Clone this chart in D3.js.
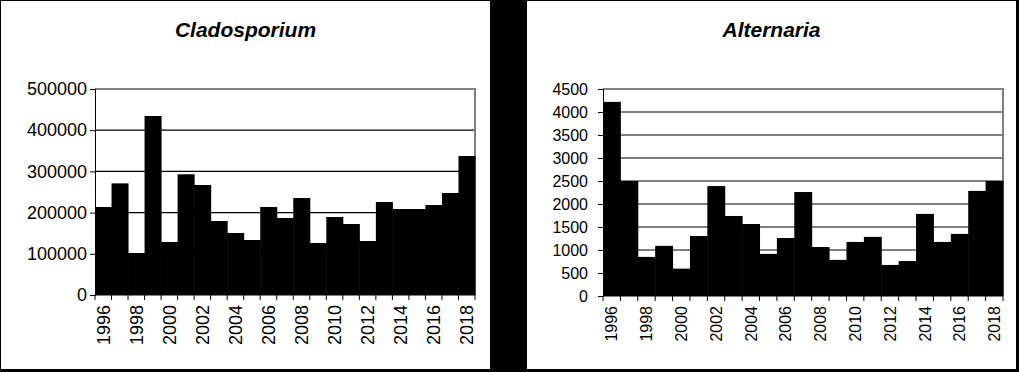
<!DOCTYPE html>
<html>
<head>
<meta charset="utf-8">
<script src="https://cdn.jsdelivr.net/npm/d3@7"></script>
<style>
  body { margin: 0; background: #000; }
  text { font-family: "Liberation Sans", Arial, sans-serif; fill: #000; }
</style>
</head>
<body>
<div id="chart"></div>
<script>
// years on the x axis (same for both panels)
var years = [1996, 1997, 1998, 1999, 2000, 2001, 2002, 2003, 2004, 2005, 2006, 2007,
             2008, 2009, 2010, 2011, 2012, 2013, 2014, 2015, 2016, 2017, 2018];
var yearLabels = [1996, 1998, 2000, 2002, 2004, 2006, 2008, 2010, 2012, 2014, 2016, 2018];

// Cladosporium yearly totals
var cladosporium = [213600, 271000, 102000, 434500, 128600, 293000, 267000, 179600,
                    150500, 133500, 213600, 187000, 235400, 126200, 189300, 172300,
                    131000, 225700, 208700, 208700, 218400, 247600, 337400];
var cladoTicks = [0, 100000, 200000, 300000, 400000, 500000];

// Alternaria yearly totals
var alternaria = [4220, 2500, 850, 1090, 595, 1305, 2390, 1740, 1565, 915, 1260, 2260,
                  1065, 785, 1175, 1285, 675, 760, 1785, 1175, 1350, 2285, 2500];
var alterTicks = [0, 500, 1000, 1500, 2000, 2500, 3000, 3500, 4000, 4500];

var W = 1019, H = 372;

var svg = d3.select("#chart").append("svg")
    .attr("width", W)
    .attr("height", H);

svg.append("rect")
    .attr("width", W)
    .attr("height", H)
    .attr("fill", "#000");

function drawPanel(opt) {
	var g = svg.append("g")
	    .attr("transform", "translate(" + opt.panel.x + "," + opt.panel.y + ")");

	// white card
	g.append("rect")
	    .attr("width", opt.panel.w)
	    .attr("height", opt.panel.h)
	    .attr("fill", "#fff");

	g.append("text")
	    .attr("x", opt.panel.w / 2)
	    .attr("y", 36)
	    .attr("text-anchor", "middle")
	    .style("font-size", "21px")
	    .style("font-weight", "bold")
	    .style("font-style", "italic")
	    .text(opt.title);

	var p = opt.plot;
	var x = d3.scaleBand()
	    .domain(years)
	    .range([p.left, p.right])
	    .paddingInner(0)
	    .paddingOuter(0);

	var y = d3.scaleLinear()
	    .domain([0, opt.ticks[opt.ticks.length - 1]])
	    .range([p.bottom, p.top]);

	// gridlines
	g.append("g").selectAll("line")
	    .data(opt.ticks.slice(1, -1))
	    .enter().append("line")
	    .attr("x1", p.left)
	    .attr("x2", p.right)
	    .attr("y1", function(d) { return y(d); })
	    .attr("y2", function(d) { return y(d); })
	    .attr("stroke", "#000")
	    .attr("stroke-width", 1.2);

	// plot area border, top and right
	g.append("path")
	    .attr("d", "M" + p.left + "," + p.top + "H" + p.right + "V" + p.bottom)
	    .attr("fill", "none")
	    .attr("stroke", "#808080")
	    .attr("stroke-width", 2);

	// bars
	g.append("g").selectAll("rect")
	    .data(opt.values)
	    .enter().append("rect")
	    .attr("x", function(d, i) { return x(years[i]); })
	    .attr("width", x.bandwidth() + 0.5)
	    .attr("y", function(d) { return y(d); })
	    .attr("height", function(d) { return y(0) - y(d); })
	    .attr("fill", "#000");

	// y axis
	var yAxis = g.append("g")
	    .attr("transform", "translate(" + p.left + ",0)")
	    .call(d3.axisLeft(y).tickValues(opt.ticks).tickSize(5).tickPadding(opt.yPad).tickFormat(d3.format("d")));
	yAxis.select(".domain").attr("stroke", "#000");
	yAxis.selectAll(".tick text")
	    .style("font-size", opt.yFont + "px")
	    .attr("fill", "#000");

	// x axis: tick marks on band edges
	var edges = years.map(function(d) { return x(d); }).concat([p.right]);
	g.append("line")
	    .attr("x1", p.left)
	    .attr("x2", p.right)
	    .attr("y1", p.bottom)
	    .attr("y2", p.bottom)
	    .attr("stroke", "#000");
	g.append("g").selectAll("line")
	    .data(edges)
	    .enter().append("line")
	    .attr("x1", function(d) { return d; })
	    .attr("x2", function(d) { return d; })
	    .attr("y1", p.bottom)
	    .attr("y2", p.bottom + 5)
	    .attr("stroke", "#000");

	g.append("g").selectAll("text")
	    .data(yearLabels)
	    .enter().append("text")
	    .attr("transform", function(d) {
	    	return "translate(" + (x(d) + x.bandwidth() / 2) + "," + (p.bottom + 10) + ") rotate(-90)";
	    })
	    .attr("dy", "0.36em")
	    .attr("text-anchor", "end")
	    .style("font-size", opt.xFont + "px")
	    .text(function(d) { return d; });
}

drawPanel({
	title: "Cladosporium",
	values: cladosporium,
	ticks: cladoTicks,
	panel: {x: 1, y: 1, w: 489, h: 368},
	plot: {left: 94, right: 474, top: 88, bottom: 294},
	yPad: 3,
	yFont: 18,
	xFont: 18
});

drawPanel({
	title: "Alternaria",
	values: alternaria,
	ticks: alterTicks,
	panel: {x: 527, y: 1, w: 489, h: 368},
	plot: {left: 76, right: 476, top: 88, bottom: 295},
	yPad: 10,
	yFont: 16,
	xFont: 16
});
</script>
</body>
</html>
